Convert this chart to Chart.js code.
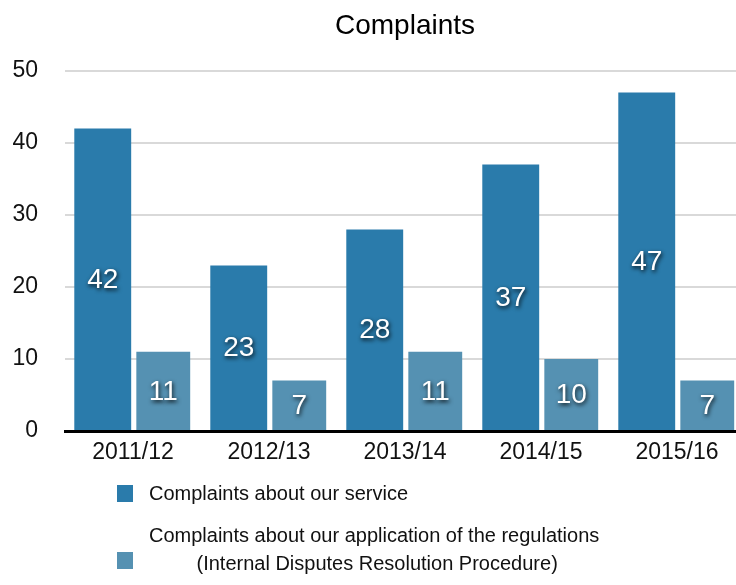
<!DOCTYPE html>
<html lang="en">
<head>
    <meta charset="UTF-8">
    <title>Complaints</title>
    <script src="https://cdn.jsdelivr.net/npm/chart.js"></script>
    <style>
        body { margin: 0; background: #fff; overflow: hidden; }
        /* o original parece cortado na direita, por isso o canvas é um pouco mais largo */
        .chart-box { width: 745px; height: 585px; position: relative; }
    </style>
</head>
<body>
    <div class="chart-box">
        <canvas id="complaintsChart"></canvas>
    </div>
    <script>
        // dados do gráfico
        const years = ['2011/12', '2012/13', '2013/14', '2014/15', '2015/16'];
        const serviceComplaints = [42, 23, 28, 37, 47];
        const regulationComplaints = [11, 7, 11, 10, 7];
        const serviceLabel = 'Complaints about our service';
        const regulationLabel = ['Complaints about our application of the regulations',
                                 '(Internal Disputes Resolution Procedure)'];
        const yTicks = [0, 10, 20, 30, 40, 50];
        const chartTitle = 'Complaints';

        const FONT = '"Liberation Sans", Arial, Helvetica, sans-serif';
        const darkBlue = '#2a7bab';
        const lightBlue = '#5591b2';

        // título centrado sobre a área do gráfico
        const plotTitle = {
            id: 'plotTitle',
            afterDraw(chart) {
                const ctx = chart.ctx;
                const area = chart.chartArea;
                ctx.save();
                ctx.font = '28px ' + FONT;
                ctx.fillStyle = '#000';
                ctx.textAlign = 'center';
                ctx.textBaseline = 'middle';
                ctx.fillText(chartTitle, (area.left + area.right) / 2, 26);
                ctx.restore();
            }
        };

        // numeros brancos com sombra no meio das barras
        const barLabels = {
            id: 'barLabels',
            afterDraw(chart) {
                const ctx = chart.ctx;
                ctx.save();
                ctx.font = '28px ' + FONT;
                ctx.fillStyle = '#fff';
                ctx.textAlign = 'center';
                ctx.textBaseline = 'middle';
                ctx.shadowColor = 'rgba(0,0,0,0.9)';
                ctx.shadowBlur = 4;
                ctx.shadowOffsetX = 1;
                ctx.shadowOffsetY = 2;
                chart.data.datasets.forEach((ds, i) => {
                    chart.getDatasetMeta(i).data.forEach((bar, j) => {
                        const mid = (bar.y + bar.base) / 2;
                        ctx.fillText(String(ds.data[j]), bar.x, mid + 1);
                    });
                });
                ctx.restore();
            }
        };

        // legenda desenhada a mao (segundo item tem duas linhas)
        const bottomLegend = {
            id: 'bottomLegend',
            afterDraw(chart) {
                const ctx = chart.ctx;
                ctx.save();
                ctx.font = '20px ' + FONT;
                ctx.textBaseline = 'middle';

                ctx.fillStyle = darkBlue;
                ctx.fillRect(117, 485, 16, 17);
                ctx.fillStyle = '#111';
                ctx.textAlign = 'left';
                ctx.fillText(serviceLabel, 149, 494);

                ctx.fillStyle = lightBlue;
                ctx.fillRect(117, 552, 16, 17);
                ctx.fillStyle = '#111';
                const w = ctx.measureText(regulationLabel[0]).width;
                ctx.fillText(regulationLabel[0], 149, 536);
                ctx.textAlign = 'center';
                ctx.fillText(regulationLabel[1], 149 + w / 2 + 3, 564);
                ctx.restore();
            }
        };

        new Chart(document.getElementById('complaintsChart'), {
            type: 'bar',
            data: {
                labels: years,
                datasets: [{
                    label: serviceLabel,
                    data: serviceComplaints,
                    backgroundColor: darkBlue,
                    barPercentage: 0.94,
                    categoryPercentage: 0.89
                }, {
                    label: regulationLabel.join(' '),
                    data: regulationComplaints,
                    backgroundColor: lightBlue,
                    barPercentage: 0.89,
                    categoryPercentage: 0.89
                }]
            },
            options: {
                responsive: true,
                maintainAspectRatio: false,
                animation: false,
                layout: { padding: { left: 0, right: 0, top: 71, bottom: 0 } },
                scales: {
                    x: {
                        z: 2,
                        grid: { display: false, drawTicks: false },
                        border: { display: true, color: '#000', width: 3 },
                        ticks: { color: '#111', font: { family: FONT, size: 23 }, padding: 8, maxRotation: 0 },
                        afterFit(scale) { scale.height = 154; }
                    },
                    y: {
                        z: 1,
                        min: 0,
                        max: 50,
                        afterBuildTicks(scale) { scale.ticks = yTicks.map(v => ({ value: v })); },
                        grid: { color: 'rgba(0,0,0,0.15)', lineWidth: 2, drawTicks: false },
                        border: { display: false },
                        ticks: { color: '#111', font: { family: FONT, size: 23 }, padding: 27 },
                        afterFit(scale) { scale.width = 65; }
                    }
                },
                plugins: {
                    legend: { display: false },
                    tooltip: { enabled: false },
                    title: { display: false }
                }
            },
            plugins: [plotTitle, barLabels, bottomLegend]
        });
    </script>
</body>
</html>
